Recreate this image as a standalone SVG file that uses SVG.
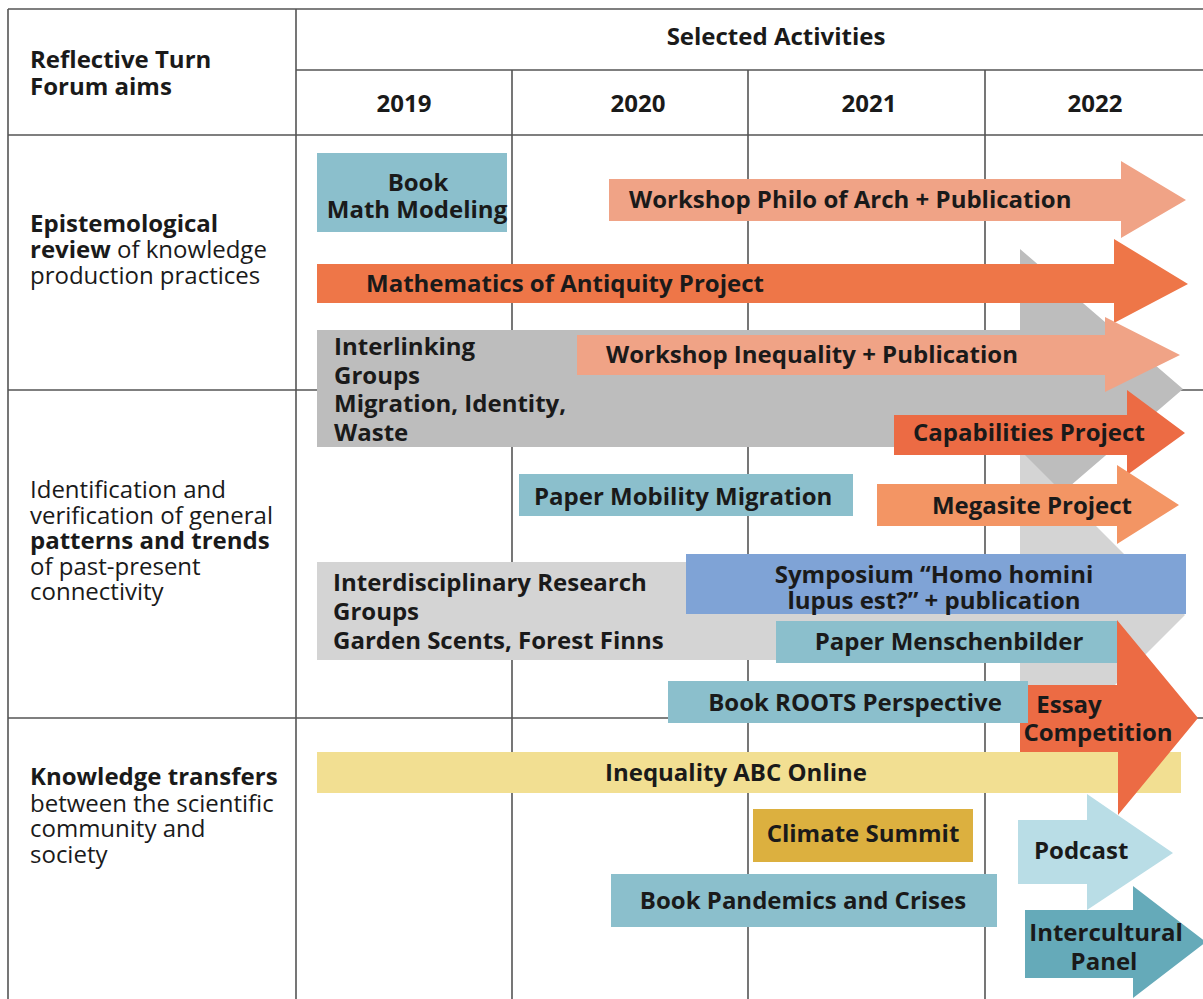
<svg xmlns="http://www.w3.org/2000/svg" width="1203" height="999" viewBox="0 0 1203 999">
<style>
.ln{stroke:#555;stroke-width:1.6;fill:none}
text{font-family:"Open Sans","Liberation Sans",sans-serif;font-size:24px;fill:#1a1a1a}
.b{font-weight:bold}
.c{text-anchor:middle}
.teal{fill:#8bbfcc}
.salmon{fill:#f0a386}
.orange{fill:#ee7648}
.red{fill:#ec6b44}
.dgrey{fill:#bdbdbd}
.lgrey{fill:#d4d4d4}
</style>
<rect x="0" y="0" width="1203" height="999" fill="#fff"/>
<g id="grid">
<path class="ln" d="M8,9 H1203 M296,70 H1203 M8,135 H1203 M8,390 H1203 M8,718 H1203 M8,9 V999 M296,9 V999 M512,70 V999 M748,70 V999 M985,70 V999"/>
</g>
<g id="header">
<text class="b c" x="776" y="45">Selected Activities</text>
<text class="b" x="30" y="68">Reflective Turn</text>
<text class="b" x="30" y="95">Forum aims</text>
<text class="b c" x="404" y="112">2019</text>
<text class="b c" x="638" y="112">2020</text>
<text class="b c" x="869" y="112">2021</text>
<text class="b c" x="1095" y="112">2022</text>
</g>
<g id="aim1">
<text x="30" y="232"><tspan class="b">Epistemological</tspan></text>
<text x="30" y="258"><tspan class="b">review</tspan> of knowledge</text>
<text x="30" y="284">production practices</text>
</g>
<g id="aim2">
<text x="30" y="498">Identification and</text>
<text x="30" y="524">verification of general</text>
<text x="30" y="549" class="b">patterns and trends</text>
<text x="30" y="575">of past-present</text>
<text x="30" y="600">connectivity</text>
</g>
<g id="aim3">
<text x="30" y="785" class="b">Knowledge transfers</text>
<text x="30" y="812">between the scientific</text>
<text x="30" y="837">community and</text>
<text x="30" y="863">society</text>
</g>
<g id="interlinking">
<path class="dgrey" d="M317,330 H1020 V249 L1183,389 L1020,529 V447 H317 Z"/>
<text class="b" x="334" y="355">Interlinking</text>
<text class="b" x="334" y="384">Groups</text>
<text class="b" x="334" y="412">Migration, Identity,</text>
<text class="b" x="334" y="441">Waste</text>
</g>
<g id="interdisciplinary">
<path class="lgrey" d="M317,562 H1020 V450 L1185,615 L1020,780 V660 H317 Z"/>
<text class="b" x="333" y="591">Interdisciplinary Research</text>
<text class="b" x="333" y="620">Groups</text>
<text class="b" x="333" y="649">Garden Scents, Forest Finns</text>
</g>
<g id="book-math">
<rect class="teal" x="317" y="153" width="190" height="79"/>
<text class="b c" x="418" y="191">Book</text>
<text class="b c" x="417" y="218">Math Modeling</text>
</g>
<g id="workshop-philo">
<path class="salmon" d="M609,179 H1121 V161 L1186,200 L1121,238 V221 H609 Z"/>
<text class="b" x="629" y="208">Workshop Philo of Arch + Publication</text>
</g>
<g id="math-antiquity">
<path class="orange" d="M317,264 H1114 V239 L1188,284 L1114,323 V303 H317 Z"/>
<text class="b" x="366" y="292">Mathematics of Antiquity Project</text>
</g>
<g id="workshop-inequality">
<path class="salmon" d="M577,335 H1105 V317 L1180,355 L1105,392 V375 H577 Z"/>
<text class="b" x="606" y="363">Workshop Inequality + Publication</text>
</g>
<g id="capabilities">
<path class="red" d="M894,415 H1127 V390 L1185,433 L1127,475 V455 H894 Z"/>
<text class="b" x="913" y="441">Capabilities Project</text>
</g>
<g id="paper-mobility">
<rect class="teal" x="519" y="474" width="334" height="42"/>
<text class="b" x="534" y="505">Paper Mobility Migration</text>
</g>
<g id="megasite">
<path fill="#f39564" d="M877,484 H1117 V465 L1179,505 L1117,544 V526 H877 Z"/>
<text class="b c" x="1032" y="514">Megasite Project</text>
</g>
<g id="symposium">
<rect fill="#7fa3d6" x="686" y="554" width="500" height="60"/>
<text class="b c" x="934" y="583">Symposium “Homo homini</text>
<text class="b c" x="934" y="609">lupus est?” + publication</text>
</g>
<g id="paper-menschenbilder">
<rect class="teal" x="776" y="621" width="342" height="42"/>
<text class="b c" x="949" y="650">Paper Menschenbilder</text>
</g>
<g id="inequality-abc">
<rect fill="#f2df92" x="317" y="752" width="864" height="41"/>
<text class="b c" x="736" y="781">Inequality ABC Online</text>
</g>
<g id="podcast">
<path fill="#b9dde6" d="M1018,820 H1087 V794 L1173,853 L1087,910 V884 H1018 Z"/>
<text class="b" x="1034" y="859">Podcast</text>
</g>
<g id="essay">
<path class="red" d="M1020,685 H1117 V620 L1198,718 L1118,815 V752 H1020 Z"/>
<text class="b c" x="1069" y="713">Essay</text>
<text class="b c" x="1098" y="741">Competition</text>
</g>
<g id="book-roots">
<rect class="teal" x="668" y="681" width="360" height="42"/>
<text class="b c" x="855" y="711">Book ROOTS Perspective</text>
</g>
<g id="climate">
<rect fill="#dcb03f" x="753" y="809" width="220" height="53"/>
<text class="b c" x="863" y="842">Climate Summit</text>
</g>
<g id="book-pandemics">
<rect class="teal" x="611" y="874" width="386" height="53"/>
<text class="b c" x="803" y="909">Book Pandemics and Crises</text>
</g>
<g id="intercultural">
<path fill="#65aab9" d="M1025,910 H1133 V886 L1206,942 L1133,998 V978 H1025 Z"/>
<text class="b c" x="1106" y="941">Intercultural</text>
<text class="b c" x="1104" y="970">Panel</text>
</g>
<g id="connectors"></g>
</svg>
